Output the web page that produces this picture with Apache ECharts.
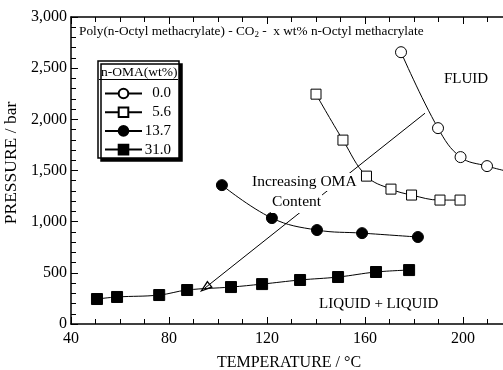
<!DOCTYPE html>
<html>
<head>
<meta charset="utf-8">
<script src="https://cdn.jsdelivr.net/npm/echarts@6/dist/echarts.min.js"></script>
<style>
  html, body { margin: 0; padding: 0; background: #fff; }
  #chart { width: 503px; height: 370px; }
</style>
</head>
<body>
<div id="chart"></div>
<script>
// legend names (n-OMA wt%)
var names = ['0.0', '5.6', '13.7', '31.0'];

// temperature (C) / pressure (bar) for each curve
var temp00 = [174.7, 189.8, 199.0, 209.8, 222.0];
var pres00 = [2656, 1914, 1631, 1543, 1470];

var temp56 = [140.0, 151.0, 160.6, 170.6, 179.0, 190.6, 198.8];
var pres56 = [2246, 1797, 1445, 1318, 1260, 1211, 1211];

var temp137 = [101.6, 122.0, 140.4, 158.8, 181.6];
var pres137 = [1357, 1035, 918, 888, 850];

var temp310 = [50.6, 58.8, 76.0, 87.4, 105.3, 118.0, 133.5, 149.0, 164.5, 178.0];
var pres310 = [244, 264, 283, 332, 361, 390, 430, 459, 508, 527];

// arrow "Increasing OMA Content" (from, to) in data units
var arrowFrom = [184.5, 2060];
var arrowTo = [94.7, 352];

var serif = 'Liberation Serif';

function pairs(xs, ys) {
    return xs.map(function (x, i) { return [x, ys[i]]; });
}

var chart = echarts.init(document.getElementById('chart'));

function curve(name, xs, ys, symbol, size, filled) {
    return {
        name: name,
        type: 'line',
        smooth: 0.4,
        data: pairs(xs, ys),
        symbol: symbol,
        symbolSize: size,
        showAllSymbol: true,
        color: '#000',
        lineStyle: { color: '#000', width: 1 },
        itemStyle: {
            color: filled ? '#000' : '#fff',
            borderColor: '#000',
            borderWidth: 1
        },
        z: 3
    };
}

var s310 = curve(names[3], temp310, pres310, 'rect', 11, true);
s310.markLine = {
    silent: true,
    animation: false,
    label: { show: false },
    lineStyle: { color: '#000', width: 1, type: 'solid' },
    symbol: ['none', 'path://M5,0 L10,14 L0,14 Z M5,4 L2.2,12.6 L7.8,12.6 Z'],
    symbolSize: [9, 13],
    data: [[{ coord: arrowFrom }, { coord: arrowTo }]]
};

var tickStyle = { color: '#000', width: 1 };

var option = {
    animation: false,
    backgroundColor: '#fff',
    textStyle: { fontFamily: serif, color: '#000' },
    grid: { left: 71, top: 17, width: 490, height: 307, containLabel: false, outerBoundsMode: 'none' },
    legend: {
        data: names,
        orient: 'vertical',
        left: 104,
        top: 86,
        itemWidth: 37,
        itemHeight: 12,
        itemGap: 3.7,
        padding: 0,
        z: 6,
        formatter: function (n) { return '{r|' + n + '}'; },
        textStyle: {
            fontFamily: serif, fontSize: 15, color: '#000',
            rich: { r: { fontFamily: serif, fontSize: 15, width: 24, align: 'right', lineHeight: 12 } }
        }
    },
    xAxis: [{
        type: 'value',
        min: 40, max: 240, interval: 40,
        name: 'TEMPERATURE / °C',
        nameLocation: 'middle',
        nameGap: 31,
        nameTextStyle: { fontFamily: serif, fontSize: 16, color: '#000', padding: [0, 54, 0, 0] },
        axisLine: { lineStyle: { color: '#000', width: 1.5 } },
        axisTick: { inside: true, length: 7, lineStyle: tickStyle },
        minorTick: { show: true, splitNumber: 4, length: 5, lineStyle: tickStyle },
        axisLabel: { fontFamily: serif, fontSize: 16, color: '#000', margin: 7 },
        splitLine: { show: false }
    }, {
        type: 'value',
        position: 'top',
        min: 40, max: 240, interval: 40,
        axisLine: { lineStyle: { color: '#000', width: 1.5 } },
        axisTick: { inside: true, length: 7, lineStyle: tickStyle },
        minorTick: { show: true, splitNumber: 4, length: 5, lineStyle: tickStyle },
        axisLabel: { show: false },
        splitLine: { show: false }
    }],
    yAxis: {
        type: 'value',
        min: 0, max: 3000, interval: 500,
        name: 'PRESSURE / bar',
        nameLocation: 'middle',
        nameGap: 41,
        nameTextStyle: { fontFamily: serif, fontSize: 17.5, color: '#000', padding: [0, 0, 0, 15] },
        axisLine: { show: true, lineStyle: { color: '#000', width: 1.5 } },
        axisTick: { inside: true, length: 7, lineStyle: tickStyle },
        minorTick: { show: true, splitNumber: 5, length: 5, lineStyle: tickStyle },
        axisLabel: {
            fontFamily: serif, fontSize: 16, color: '#000', margin: 4,
            formatter: function (v) { return v.toLocaleString('en-US'); }
        },
        splitLine: { show: false }
    },
    graphic: [
        {
            type: 'text', left: 79, top: 25, z: 10,
            style: {
                text: 'Poly(n-Octyl methacrylate) - CO{s|2} -  x wt% n-Octyl methacrylate',
                fontFamily: serif, fontSize: 13.3, fill: '#000',
                rich: { s: { fontFamily: serif, fontSize: 9, verticalAlign: 'bottom', padding: [6, 0, 0, 0] } }
            }
        },
        {
            type: 'rect', z: 4,
            shape: { x: 98, y: 61, width: 81, height: 97 },
            style: { fill: '#fff', stroke: '#000', lineWidth: 1.5, shadowColor: '#000', shadowOffsetX: 3, shadowOffsetY: 3, shadowBlur: 0 }
        },
        {
            type: 'text', z: 5, left: 101, top: 65,
            style: { text: 'n-OMA(wt%)', fontFamily: serif, fontSize: 13.5, fill: '#000' }
        },
        {
            type: 'line', z: 5,
            shape: { x1: 99, y1: 79.5, x2: 178, y2: 79.5 },
            style: { stroke: '#000', lineWidth: 1 }
        },
        {
            type: 'text', z: 10, left: 444, top: 72,
            style: { text: 'FLUID', fontFamily: serif, fontSize: 15, fill: '#000' }
        },
        {
            type: 'text', z: 10, left: 319, top: 297,
            style: { text: 'LIQUID + LIQUID', fontFamily: serif, fontSize: 15, fill: '#000' }
        },
        {
            type: 'text', z: 10, left: 251, top: 173,
            style: {
                text: 'Increasing OMA', fontFamily: serif, fontSize: 15.5, fill: '#000',
                backgroundColor: '#fff', padding: [1, 1, 1, 1]
            }
        },
        {
            type: 'text', z: 10, left: 271, top: 193,
            style: {
                text: 'Content', fontFamily: serif, fontSize: 15.5, fill: '#000',
                backgroundColor: '#fff', padding: [1, 1, 3, 1]
            }
        }
    ],
    series: [
        curve(names[0], temp00, pres00, 'circle', 11, false),
        curve(names[1], temp56, pres56, 'rect', 10, false),
        curve(names[2], temp137, pres137, 'circle', 11, true),
        s310
    ]
};

chart.setOption(option);
</script>
</body>
</html>
